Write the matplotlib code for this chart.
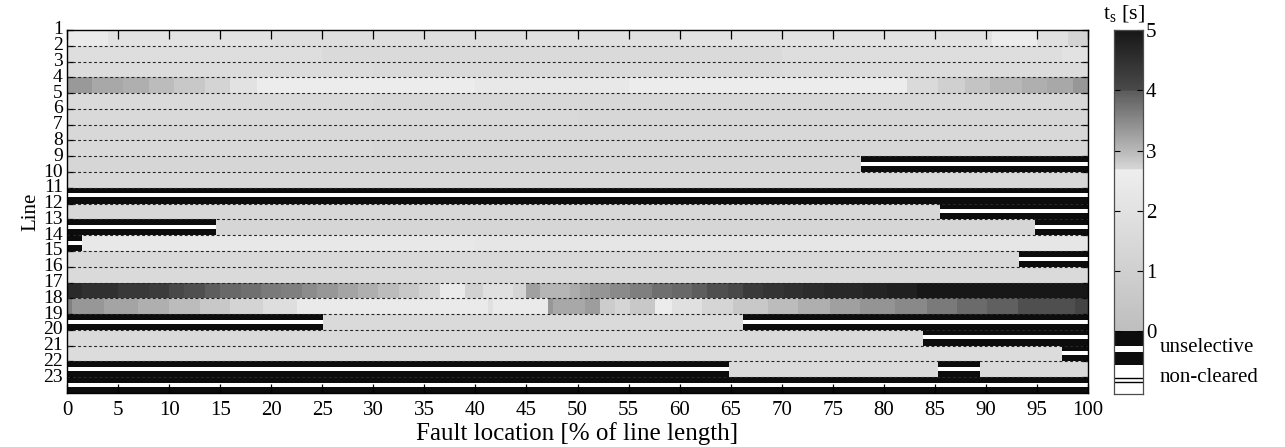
import numpy as np
import matplotlib
matplotlib.use("Agg")
import matplotlib.pyplot as plt
from matplotlib.colors import ListedColormap, Normalize
from matplotlib.patches import Rectangle

plt.rcParams['font.family'] = ['Liberation Serif', 'DejaVu Serif']
plt.rcParams['mathtext.fontset'] = 'custom'
plt.rcParams['mathtext.rm'] = 'Liberation Serif'
plt.rcParams['mathtext.it'] = 'Liberation Serif:italic'

# ---------------- data: clearing time t_s [s] per line, along fault location [%] ----------------
U = "U"  # unselective clearing

line1_x = [0, 4, 20, 45, 60, 90.6, 95, 98, 100]
line1_t = [2.46, 2.01, 1.79, 1.90, 2.01, 2.57, 1.90, 1.23]
line2_x = [0, 25, 70, 97.5, 100]
line2_t = [1.79, 1.56, 1.79, 2.01]
line3_x = [0, 30, 70, 100]
line3_t = [1.68, 1.56, 1.68]
line4_x = [0, 2.4, 5.5, 8, 10.5, 13.5, 16, 18.6, 40, 55, 82.3, 85.3, 88, 90.4, 93.5, 96, 98.5, 100]
line4_t = [3.33, 3.17, 3.09, 2.96, 2.84, 2.72, 2.01, 2.57, 2.35, 2.57, 1.56, 2.76, 2.88, 3.00, 3.09, 3.17, 3.34]
line5_x = [0, 30, 100]
line5_t = [1.56, 1.45]
line6_x = [0, 50, 100]
line6_t = [1.50, 1.40]
line7_x = [0, 100]
line7_t = [1.45]
line8_x = [0, 30, 100]
line8_t = [1.50, 1.40]
line9_x = [0, 77.8, 100]
line9_t = [1.34, U]
line10_x = [0, 100]
line10_t = [1.45]
line11_x = [0, 100]
line11_t = [U]
line12_x = [0, 85.5, 100]
line12_t = [1.40, U]
line13_x = [0, 14.6, 94.8, 100]
line13_t = [U, 1.34, U]
line14_x = [0, 1.5, 40, 100]
line14_t = [U, 2.35, 2.25]
line15_x = [0, 93.2, 100]
line15_t = [1.50, U]
line16_x = [0, 100]
line16_t = [1.56]
line17_x = [0, 1.5, 5, 8, 10, 11.5, 13.5, 15, 17, 19, 21, 23, 24.5, 26.5, 28.5, 30.5, 32.5,
            34.5, 36.5, 39, 40.7, 43.7, 45, 46.3, 49.3, 50.2, 51.2, 53.2, 55.1, 57.3, 59.3,
            61.2, 62.7, 64.7, 66.2, 68.2, 70.2, 72.1, 74.1, 78, 80.3, 83.3, 100]
line17_t = [4.62, 4.50, 4.35, 4.27, 4.04, 3.99, 3.98, 3.85, 3.77, 3.66, 3.60, 3.47, 3.34,
            3.21, 3.09, 2.96, 2.84, 2.72, 2.46, 2.74, 1.90, 2.71, 3.26, 3.04, 3.13, 3.26,
            3.36, 3.49, 3.60, 3.77, 3.85, 3.98, 3.99, 4.04, 4.31, 4.42, 4.50, 4.58, 4.65,
            4.73, 4.81, 5.00]
line18_x = [0, 0.5, 3.6, 7, 10, 13, 16, 19.2, 22.5, 41.2, 41.7, 47.1, 47.6, 50.7, 52.2, 53.7,
            55.1, 57.6, 59.3, 62.2, 65.2, 68.7, 71.6, 74.7, 77.7, 81.1, 84.2, 87.2, 90.1,
            93.1, 96.3, 98.7, 100]
line18_t = [3.60, 3.34, 3.21, 3.09, 2.96, 2.84, 2.72, 1.79, 2.46, 1.90, 2.46, 3.34, 3.17,
            3.30, 2.80, 2.71, 2.84, 2.57, 1.90, 2.71, 2.84, 2.96, 3.09, 3.26, 3.38, 3.51,
            3.66, 3.81, 3.94, 3.99, 4.00, 4.12]
line19_x = [0, 25.1, 66.2, 100]
line19_t = [U, 1.56, U]
line20_x = [0, 83.8, 100]
line20_t = [1.56, U]
line21_x = [0, 97.5, 100]
line21_t = [1.68, U]
line22_x = [0, 64.8, 85.3, 89.4, 100]
line22_t = [U, 1.56, U, 1.56]
line23_x = [0, 100]
line23_t = [U]

lines_x = [line1_x, line2_x, line3_x, line4_x, line5_x, line6_x, line7_x, line8_x,
           line9_x, line10_x, line11_x, line12_x, line13_x, line14_x, line15_x, line16_x,
           line17_x, line18_x, line19_x, line20_x, line21_x, line22_x, line23_x]
lines_t = [line1_t, line2_t, line3_t, line4_t, line5_t, line6_t, line7_t, line8_t,
           line9_t, line10_t, line11_t, line12_t, line13_t, line14_t, line15_t, line16_t,
           line17_t, line18_t, line19_t, line20_t, line21_t, line22_t, line23_t]

x_ticks = list(range(0, 101, 5))
line_numbers = list(range(1, 24))
cbar_ticks = [0, 1, 2, 3, 4, 5]

# colormap knots (time [s] -> gray level 0..255)
cmap_t = [0, 2.68, 2.70, 3.0, 3.98, 4.0, 5.0]
cmap_g = [190, 238, 214, 184, 92, 74, 22]

# ---------------- styling ----------------
N = 256
centers = (np.arange(N) + 0.5) / N * 5.0
grays = np.interp(centers, cmap_t, cmap_g) / 255.0
cmap = ListedColormap(np.column_stack([grays, grays, grays]))
norm = Normalize(0, 5)
BLACK = '#0c0c0c'
FS = 15

W, H = 1285, 447
fig = plt.figure(figsize=(W / 100, H / 100), dpi=100)
ax = fig.add_axes([67 / W, 1 - 393 / H, (1088 - 67) / W, (393 - 30) / H])

for i, (xs, ts) in enumerate(zip(lines_x, lines_t), start=1):
    for x0, x1, t in zip(xs[:-1], xs[1:], ts):
        if t == U:
            ax.barh(i + 0.5, x1 - x0, left=x0, height=1.0, color=BLACK, lw=0,
                    antialiased=False)
            ax.barh(i + 0.48, x1 - x0, left=x0, height=0.25, color='white', lw=0,
                    antialiased=False)
        else:
            ax.barh(i + 0.5, x1 - x0, left=x0, height=1.0, color=cmap(norm(t)), lw=0,
                    antialiased=False)

ax.hlines(line_numbers[1:], 0, 100, colors='0.15', linestyles=(0, (2.6, 2.2)), lw=0.8)

ax.set_xlim(0, 100)
ax.set_ylim(24, 1)
ax.set_xticks(x_ticks)
ax.set_yticks(line_numbers)
ax.tick_params(axis='both', direction='in', top=True, right=True,
               colors='black', width=0.9)
ax.tick_params(axis='x', length=6.5, pad=6, labelsize=FS)
ax.tick_params(axis='y', length=4, pad=3, labelsize=14)
for lab in ax.get_yticklabels():
    lab.set_verticalalignment('center')
for s in ax.spines.values():
    s.set_linewidth(1.0)
ax.set_xlabel('Fault location [% of line length]', fontsize=18, labelpad=1)
ax.set_ylabel('Line', fontsize=FS, labelpad=2)

# ---------------- colour bar ----------------
cax = fig.add_axes([1114 / W, 1 - 394 / H, 29 / W, 364 / H])
levels = np.linspace(0, 5, N + 1)
cax.pcolormesh([0, 1], levels, centers[:, None], cmap=cmap, norm=norm, shading='flat')
cax.add_patch(Rectangle((0, -0.244), 1, 0.244, color=BLACK, lw=0))
cax.add_patch(Rectangle((0, -0.344), 1, 0.100, color='white', lw=0))
cax.add_patch(Rectangle((0, -0.565), 1, 0.221, color=BLACK, lw=0))
cax.add_patch(Rectangle((0, -1.04), 1, 0.475, color='white', lw=0))
cax.hlines([-0.77, -0.84], 0, 1, colors='black', lw=1.0)
cax.set_xlim(0, 1)
cax.set_ylim(-1.04, 5)
cax.set_xticks([])
cax.set_yticks(cbar_ticks)
cax.yaxis.tick_right()
cax.tick_params(axis='y', direction='in', left=True, right=True, length=4, width=0.8,
                labelsize=FS, pad=2)
for s in cax.spines.values():
    s.set_linewidth(0.9)
    s.set_color('0.3')

fig.text(1103 / W, 1 - 19 / H, r'$\mathrm{t}_\mathrm{s}$ [s]', fontsize=16, va='baseline',
         ha='left')
fig.text(1160 / W, 1 - 347 / H, 'unselective', fontsize=FS, va='center', ha='left')
fig.text(1160 / W, 1 - 378 / H, 'non-cleared', fontsize=FS, va='center', ha='left')

fig.savefig('out.png', dpi=100)
